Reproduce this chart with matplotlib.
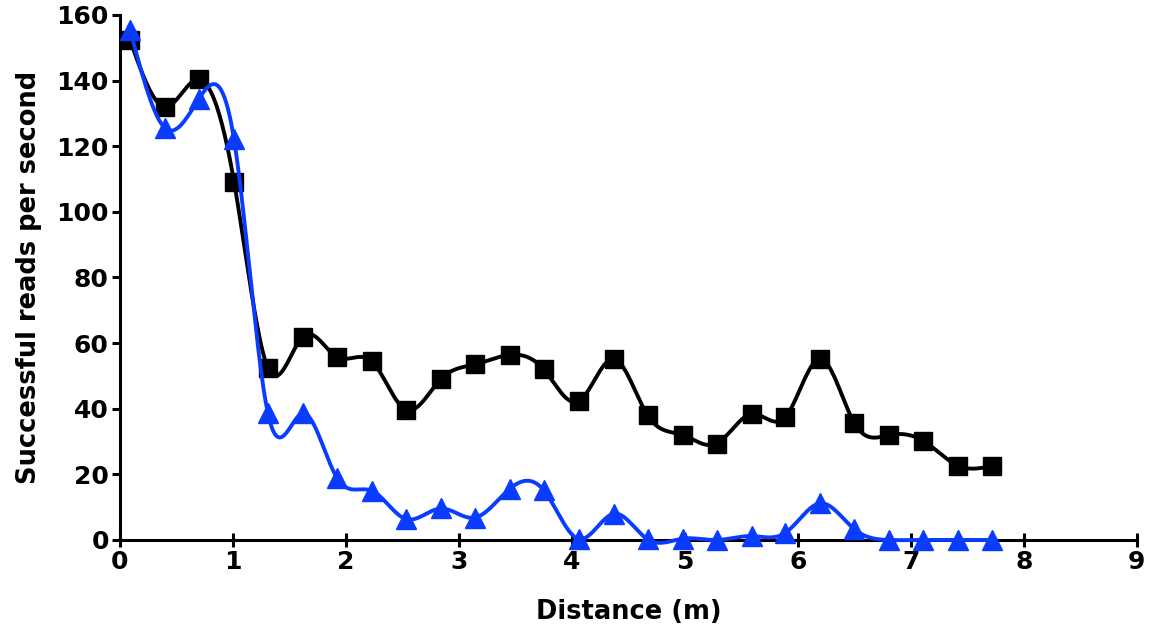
import numpy as np
import matplotlib
matplotlib.use("Agg")
import matplotlib.pyplot as plt

# Data
distance_m = [0.09, 0.40, 0.70, 1.01, 1.31, 1.62, 1.92, 2.23, 2.53, 2.84,
              3.14, 3.45, 3.75, 4.06, 4.37, 4.67, 4.98, 5.28, 5.59, 5.89,
              6.20, 6.50, 6.81, 7.11, 7.42, 7.72]
reads_black = [152.3, 132.0, 140.4, 109.2, 52.4, 62.0, 55.8, 54.4, 39.7, 49.0,
               53.5, 56.4, 52.0, 42.3, 55.2, 38.0, 32.0, 29.4, 38.4, 37.5,
               55.2, 35.6, 32.0, 30.2, 22.6, 22.6]
reads_blue = [155.5, 125.5, 134.5, 122.1, 38.6, 38.6, 19.0, 15.0, 6.4, 9.6,
              6.8, 15.6, 15.2, 0.3, 8.0, 0.2, 0.4, 0.0, 1.2, 2.2,
              11.2, 3.3, 0.0, 0.0, 0.0, 0.0]
x_ticks = [0, 1, 2, 3, 4, 5, 6, 7, 8, 9]
y_ticks = [0, 20, 40, 60, 80, 100, 120, 140, 160]


def natural_spline(x, y, n=40):
    x = np.asarray(x, float)
    y = np.asarray(y, float)
    m = len(x)
    h = np.diff(x)
    A = np.zeros((m, m))
    r = np.zeros(m)
    A[0, 0] = 1.0
    A[-1, -1] = 1.0
    for i in range(1, m - 1):
        A[i, i - 1] = h[i - 1]
        A[i, i] = 2 * (h[i - 1] + h[i])
        A[i, i + 1] = h[i]
        r[i] = 3 * ((y[i + 1] - y[i]) / h[i] - (y[i] - y[i - 1]) / h[i - 1])
    c = np.linalg.solve(A, r)
    xs, ys = [], []
    for i in range(m - 1):
        b = (y[i + 1] - y[i]) / h[i] - h[i] * (2 * c[i] + c[i + 1]) / 3
        d = (c[i + 1] - c[i]) / (3 * h[i])
        t = np.linspace(0, h[i], n, endpoint=(i == m - 2))
        xs.append(x[i] + t)
        ys.append(y[i] + b * t + c[i] * t ** 2 + d * t ** 3)
    return np.concatenate(xs), np.concatenate(ys)


plt.rcParams['font.family'] = ['DejaVu Sans']
plt.rcParams['font.weight'] = 'bold'

fig = plt.figure(figsize=(11.53, 6.32), dpi=100)
ax = fig.add_axes([0.104, 0.1456, 0.882, 0.8307])

blue = '#0a3cff'
sx, sy = natural_spline(distance_m, reads_black)
ax.plot(sx, sy, color='black', lw=2.8, zorder=2, clip_on=False)
ax.plot(distance_m, reads_black, linestyle='none', marker='s', ms=12.5,
        color='black', zorder=3, clip_on=False)
bx, by = natural_spline(distance_m, reads_blue)
ax.plot(bx, by, color=blue, lw=2.8, zorder=4, clip_on=False)
ax.plot(distance_m, reads_blue, linestyle='none', marker='^', ms=15,
        color=blue, zorder=5, clip_on=False)

ax.set_xlim(0, 9)
ax.set_ylim(0, 160)
ax.set_xticks(x_ticks)
ax.set_yticks(y_ticks)
ax.spines['top'].set_visible(False)
ax.spines['right'].set_visible(False)
ax.spines['left'].set_linewidth(2.2)
ax.spines['bottom'].set_linewidth(2.2)
ax.tick_params(axis='x', direction='inout', length=10, width=2.2,
               labelsize=18, pad=2)
ax.tick_params(axis='y', direction='out', length=6, width=2.2,
               labelsize=18, pad=2)
for lab in ax.get_xticklabels() + ax.get_yticklabels():
    lab.set_fontweight('bold')

ax.set_xlabel('Distance (m)', fontsize=18.5, fontweight='bold', labelpad=18)
ax.set_ylabel('Successful reads per second', fontsize=18.5, fontweight='bold',
              labelpad=10)

fig.savefig('out.png', dpi=100)
